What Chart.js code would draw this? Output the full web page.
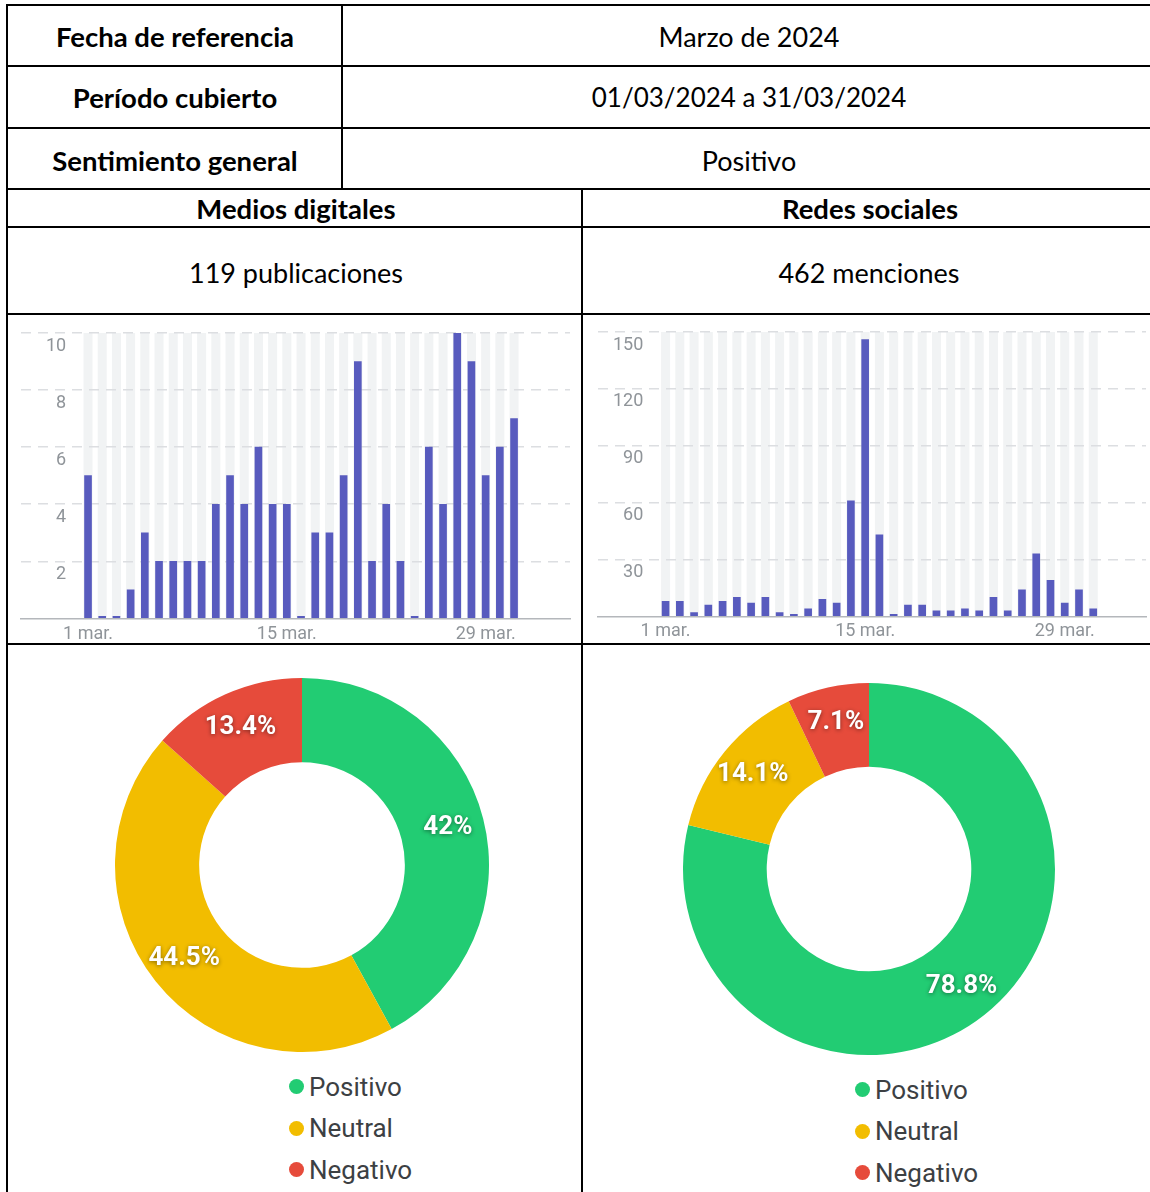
<!DOCTYPE html>
<html lang="es">
<head>
<meta charset="utf-8">
<title>Resumen de menciones - Marzo de 2024</title>
<script src="https://cdn.jsdelivr.net/npm/chart.js@4.4.1/dist/chart.umd.min.js"></script>
<style>
  html, body { margin: 0; padding: 0; background: #fff; }
  body { width: 1150px; height: 1192px; position: relative; overflow: hidden; font-family: Lato, 'Noto Sans', sans-serif; color: #000; }
  .line { position: absolute; background: #000; }
  .cell { position: absolute; display: flex; align-items: center; justify-content: center; white-space: nowrap; font-size: 27px; }
  .cell.head { font-weight: bold; font-size: 27.5px; }
  .cell.date { font-size: 26px; }
  .chart-box { position: absolute; }
  .legend { position: absolute; margin: 0; padding: 0; list-style: none; font-family: Roboto, sans-serif; font-size: 26px; color: #3c4043; }
  .legend li { display: flex; align-items: center; height: 41.5px; }
  .legend .dot { width: 15px; height: 15px; border-radius: 50%; margin-right: 5px; }
</style>
</head>
<body>

<!-- table borders -->
<div class="line" style="left:6px; top:4px; width:1144px; height:2px;"></div>
<div class="line" style="left:6px; top:65px; width:1144px; height:2px;"></div>
<div class="line" style="left:6px; top:127px; width:1144px; height:2px;"></div>
<div class="line" style="left:6px; top:188px; width:1144px; height:2px;"></div>
<div class="line" style="left:6px; top:226px; width:1144px; height:2px;"></div>
<div class="line" style="left:6px; top:313px; width:1144px; height:2px;"></div>
<div class="line" style="left:6px; top:643px; width:1144px; height:2px;"></div>
<div class="line" style="left:6px; top:4px; width:2px; height:1188px;"></div>
<div class="line" style="left:341px; top:4px; width:2px; height:186px;"></div>
<div class="line" style="left:581px; top:188px; width:2px; height:1004px;"></div>

<!-- table text -->
<div class="cell head" style="left:8px; top:6px; width:334px; height:60px;">Fecha de referencia</div>
<div class="cell" style="left:344px; top:6px; width:810px; height:60px;">Marzo de 2024</div>
<div class="cell head" style="left:8px; top:67px; width:334px; height:60px;">Período cubierto</div>
<div class="cell date" style="left:344px; top:67px; width:810px; height:60px;">01/03/2024 a 31/03/2024</div>
<div class="cell head" style="left:8px; top:130px; width:334px; height:60px;">Sentimiento general</div>
<div class="cell" style="left:344px; top:130px; width:810px; height:60px;">Positivo</div>
<div class="cell head" style="left:8px; top:190px; width:576px; height:37px;">Medios digitales</div>
<div class="cell head" style="left:584px; top:190px; width:572px; height:37px;">Redes sociales</div>
<div class="cell" style="left:8px; top:229px; width:576px; height:86px;">119 publicaciones</div>
<div class="cell" style="left:584px; top:229px; width:570px; height:86px;">462 menciones</div>

<!-- charts -->
<div class="chart-box" style="left:10px; top:318px; width:570px; height:332px;"><canvas id="mediosBar"></canvas></div>
<div class="chart-box" style="left:586px; top:318px; width:562px; height:328px;"><canvas id="redesBar"></canvas></div>
<div class="chart-box" style="left:115px; top:678px; width:374px; height:374px;"><canvas id="mediosDonut"></canvas></div>
<div class="chart-box" style="left:683px; top:683px; width:372px; height:372px;"><canvas id="redesDonut"></canvas></div>
<ul class="legend" id="mediosLegend" style="left:289px; top:1066px;"></ul>
<ul class="legend" id="redesLegend" style="left:855px; top:1069px;"></ul>

<script>
// Resumen de menciones - marzo 2024

// Daily counts (1..31 March)
const days = [1, 2, 3, 4, 5, 6, 7, 8, 9, 10, 11, 12, 13, 14, 15, 16, 17, 18, 19, 20, 21, 22, 23, 24, 25, 26, 27, 28, 29, 30, 31];
const mediosPublicaciones = [5, 0, 0, 1, 3, 2, 2, 2, 2, 4, 5, 4, 6, 4, 4, 0, 3, 3, 5, 9, 2, 4, 2, 0, 6, 4, 10, 9, 5, 6, 7];
const redesMenciones = [8, 8, 2, 6, 8, 10, 7, 10, 2, 1, 4, 9, 7, 61, 146, 43, 1, 6, 6, 3, 3, 4, 3, 10, 3, 14, 33, 19, 7, 14, 4];

// Tick labels
const xTickDays = [1, 15, 29];
const xTickLabels = ['1 mar.', '15 mar.', '29 mar.'];
const mediosYTicks = [0, 2, 4, 6, 8, 10];
const redesYTicks = [0, 30, 60, 90, 120, 150];

// Sentiment split (%)
const sentimentLabels = ['Positivo', 'Neutral', 'Negativo'];
const mediosSentiment = [42, 44.5, 13.4];
const redesSentiment = [78.8, 14.1, 7.1];

const barColor = '#585bbe';
const trackColor = '#f1f3f4';
const gridColor = '#dcdee1';
const tickColor = '#8f9499';
const sentimentColors = ['#22cc73', '#f2bd00', '#e64b3b'];

// light grey column behind every day
const dayTracks = {
    id: 'dayTracks',
    beforeDraw(chart) {
        const { ctx, chartArea, scales: { x } } = chart;
        ctx.save();
        ctx.fillStyle = trackColor;
        chart.data.datasets[0].data.forEach(p => {
            const px = x.getPixelForValue(p.x);
            ctx.fillRect(px - 4.5, chartArea.top, 9, chartArea.bottom - chartArea.top - 1);
        });
        ctx.restore();
    }
};

// percentage written on each slice
const sliceLabels = {
    id: 'sliceLabels',
    afterDatasetsDraw(chart) {
        const { ctx } = chart;
        const values = chart.data.datasets[0].data;
        ctx.save();
        ctx.font = 'bold 26px Roboto';
        ctx.fillStyle = '#ffffff';
        ctx.textAlign = 'center';
        ctx.textBaseline = 'middle';
        ctx.shadowColor = 'rgba(0, 0, 0, 0.45)';
        ctx.shadowBlur = 4;
        ctx.shadowOffsetY = 1;
        chart.getDatasetMeta(0).data.forEach((arc, i) => {
            const { x, y, startAngle, endAngle, outerRadius } =
                arc.getProps(['x', 'y', 'startAngle', 'endAngle', 'outerRadius'], true);
            const mid = (startAngle + endAngle) / 2;
            const r = outerRadius * 0.805;
            ctx.fillText(values[i] + '%', x + Math.cos(mid) * r, y + Math.sin(mid) * r);
        });
        ctx.restore();
    }
};

// vertical legend as html list
const htmlLegend = {
    id: 'htmlLegend',
    afterUpdate(chart, args, options) {
        const ul = document.getElementById(options.containerID);
        if (!ul) return;
        ul.innerHTML = '';
        const items = chart.options.plugins.legend.labels.generateLabels(chart);
        items.forEach(item => {
            const li = document.createElement('li');
            const dot = document.createElement('span');
            dot.className = 'dot';
            dot.style.background = item.fillStyle;
            const text = document.createElement('span');
            text.textContent = item.text;
            li.appendChild(dot);
            li.appendChild(text);
            ul.appendChild(li);
        });
    }
};

function initDailyChart(canvasId, values, yTicks, opts) {
    const ctx = document.getElementById(canvasId);
    if (!ctx) return;

    new Chart(ctx, {
        type: 'bar',
        data: {
            datasets: [{
                data: days.map((d, i) => ({ x: d, y: values[i] })),
                backgroundColor: barColor,
                barThickness: 7,
                minBarLength: 2
            }]
        },
        options: {
            responsive: true,
            maintainAspectRatio: false,
            animation: false,
            events: [],
            layout: { padding: opts.padding },
            plugins: {
                legend: { display: false },
                tooltip: { enabled: false }
            },
            scales: {
                x: {
                    type: 'linear',
                    min: opts.xMin,
                    max: opts.xMax,
                    offset: false,
                    grid: { display: false, drawTicks: false },
                    border: { display: true, color: '#b4b7bb', width: 1.5 },
                    afterBuildTicks: s => { s.ticks = xTickDays.map(v => ({ value: v })); },
                    afterFit: s => { s.paddingLeft = 0; s.paddingRight = 0; },
                    ticks: {
                        padding: opts.xPad,
                        maxRotation: 0,
                        autoSkip: false,
                        color: tickColor,
                        font: { family: 'Roboto', size: 18 },
                        callback: (v, i) => xTickLabels[i]
                    }
                },
                y: {
                    min: 0,
                    max: yTicks[yTicks.length - 1],
                    afterBuildTicks: s => { s.ticks = yTicks.map(v => ({ value: v })); },
                    afterFit: s => { s.width = 0; s.paddingTop = 0; s.paddingBottom = 0; },
                    grid: {
                        drawTicks: false,
                        lineWidth: 1.5,
                        color: c => (c.tick && c.tick.value === 0) ? 'transparent' : gridColor
                    },
                    border: { display: false, dash: [10, 7] },
                    ticks: {
                        mirror: true,
                        crossAlign: 'far',
                        padding: opts.yPad,
                        labelOffset: 13,
                        color: tickColor,
                        font: { family: 'Roboto', size: 18 },
                        callback: v => v === 0 ? '' : v
                    }
                }
            }
        },
        plugins: [dayTracks]
    });
}

function initSentimentChart(canvasId, legendId, values) {
    const ctx = document.getElementById(canvasId);
    if (!ctx) return;

    new Chart(ctx, {
        type: 'doughnut',
        data: {
            labels: sentimentLabels,
            datasets: [{
                data: values,
                backgroundColor: sentimentColors,
                borderWidth: 0,
                hoverOffset: 0
            }]
        },
        options: {
            responsive: true,
            maintainAspectRatio: false,
            animation: false,
            events: [],
            cutout: '55%',
            layout: { padding: 0 },
            plugins: {
                legend: { display: false },
                tooltip: { enabled: false },
                htmlLegend: { containerID: legendId }
            }
        },
        plugins: [sliceLabels, htmlLegend]
    });
}

initDailyChart('mediosBar', mediosPublicaciones, mediosYTicks, {
    padding: { left: 11, right: 10, top: 15, bottom: 0 },
    xMin: -3.72, xMax: 34.94, xPad: 5, yPad: 25
});
initDailyChart('redesBar', redesMenciones, redesYTicks, {
    padding: { left: 12, right: 2, top: 14, bottom: 0 },
    xMin: -3.74, xMax: 34.7, xPad: 4, yPad: 15
});
initSentimentChart('mediosDonut', 'mediosLegend', mediosSentiment);
initSentimentChart('redesDonut', 'redesLegend', redesSentiment);
</script>
</body>
</html>
